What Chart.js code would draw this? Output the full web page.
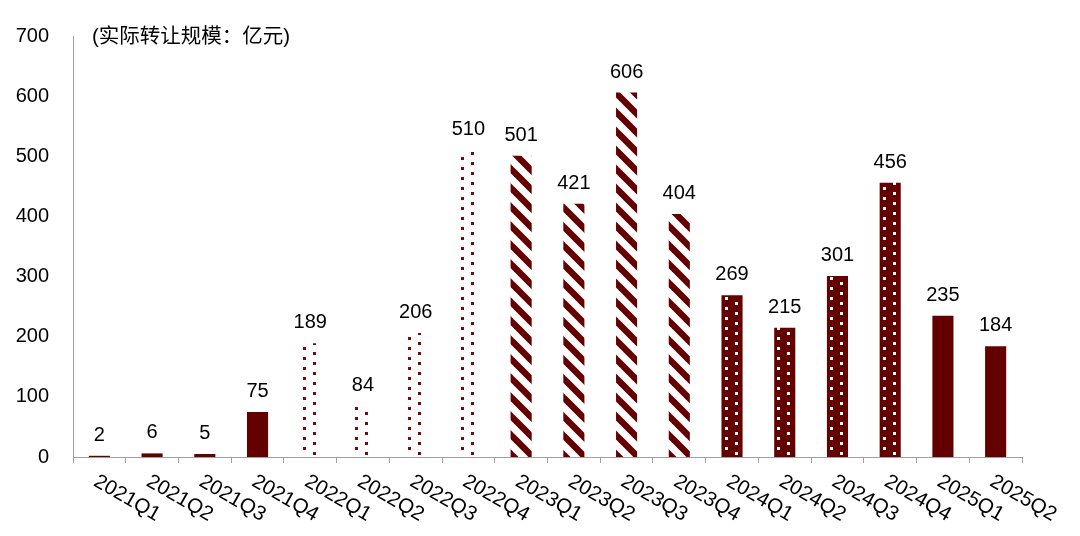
<!DOCTYPE html>
<html>
<head>
<meta charset="utf-8">
<script src="https://cdn.jsdelivr.net/npm/chart.js@4.4.0/dist/chart.umd.min.js"></script>
<style>
  html, body { margin: 0; padding: 0; background: #fff; }
  #wrap { width: 1080px; height: 536px; position: relative; }
</style>
</head>
<body>
<div id="wrap"><canvas id="transferChart"></canvas></div>
<script>
const quarters = ['2021Q1', '2021Q2', '2021Q3', '2021Q4', '2022Q1', '2022Q2', '2022Q3', '2022Q4',
    '2023Q1', '2023Q2', '2023Q3', '2023Q4', '2024Q1', '2024Q2', '2024Q3', '2024Q4', '2025Q1', '2025Q2'];
const transferValues = [2, 6, 5, 75, 189, 84, 206, 510, 501, 421, 606, 404, 269, 215, 301, 456, 235, 184];
const yTicks = [0, 100, 200, 300, 400, 500, 600, 700];
const unitNote = '(实际转让规模：亿元)';

const MAROON = '#640000';
const FONT = '"Liberation Sans", Arial, sans-serif';

// fill style per year, like the original excel chart
const makeTile = (w, h, paint) => {
    const c = document.createElement('canvas');
    c.width = w; c.height = h;
    paint(c.getContext('2d'));
    return c;
};

const sparseDots = makeTile(20, 10, g => {
    g.fillStyle = '#7a0a0a';
    g.fillRect(0, 0, 3, 3);
    g.fillRect(10, 5, 3, 3);
});
const whiteDots = makeTile(20, 10, g => {
    g.fillStyle = MAROON;
    g.fillRect(0, 0, 20, 10);
    g.fillStyle = '#fff';
    g.fillRect(0, 0, 3, 3);
    g.fillRect(10, 5, 3, 3);
});
const stripes = makeTile(19, 19, g => {
    g.strokeStyle = MAROON;
    g.lineWidth = 6.5;
    for (let k = -1; k <= 1; k++) {
        g.beginPath();
        g.moveTo(k * 19 - 2, -2);
        g.lineTo(k * 19 + 21, 21);
        g.stroke();
    }
});

const barFill = (ctx) => {
    const chart = ctx.chart;
    const year = quarters[ctx.dataIndex].slice(0, 4);
    let tile = null;
    if (year === '2022') tile = sparseDots;
    else if (year === '2023') tile = stripes;
    else if (year === '2024') tile = whiteDots;
    if (!tile || !chart.scales.x) return MAROON;
    const pat = chart.ctx.createPattern(tile, 'repeat');
    const cx = chart.scales.x.getPixelForValue(ctx.dataIndex);
    const by = chart.chartArea ? Math.round(chart.chartArea.bottom) : 0;
    pat.setTransform(new DOMMatrix([1, 0, 0, 1, Math.round(cx - 10.5 + 3), by]));
    return pat;
};

const overlayText = {
    id: 'overlayText',
    afterDatasetsDraw(chart) {
        const { ctx } = chart;
        const meta = chart.getDatasetMeta(0);
        ctx.save();
        ctx.fillStyle = '#000';
        ctx.font = '20px ' + FONT;
        ctx.textAlign = 'center';
        ctx.textBaseline = 'alphabetic';
        meta.data.forEach((bar, i) => {
            ctx.fillText(String(transferValues[i]), bar.x, bar.y - 15);
        });

        // rotated category labels
        const xs = chart.scales.x;
        ctx.font = '20.5px ' + FONT;
        ctx.textAlign = 'left';
        ctx.textBaseline = 'middle';
        quarters.forEach((q, i) => {
            const px = xs.getPixelForValue(i);
            ctx.save();
            ctx.translate(px - 4, xs.top + 23);
            ctx.rotate(Math.PI / 6);
            ctx.fillText(q, 0, 0);
            ctx.restore();
        });

        // unit note
        ctx.font = '20.5px "Liberation Sans", "Noto Sans CJK SC", sans-serif';
        ctx.textAlign = 'left';
        ctx.textBaseline = 'middle';
        ctx.fillText(unitNote, 92, 37);
        ctx.restore();
    }
};

window.addEventListener('load', () => {
    const canvas = document.getElementById('transferChart');
    new Chart(canvas.getContext('2d'), {
        type: 'bar',
        data: {
            labels: quarters,
            datasets: [{
                data: transferValues,
                backgroundColor: barFill,
                borderWidth: 0,
                barPercentage: 0.8,
                categoryPercentage: 0.5
            }]
        },
        options: {
            responsive: true,
            maintainAspectRatio: false,
            animation: false,
            events: [],
            layout: { padding: { left: 0, top: 32, right: 58, bottom: 0 } },
            plugins: {
                legend: { display: false },
                tooltip: { enabled: false }
            },
            scales: {
                x: {
                    ticks: { display: false },
                    grid: {
                        offset: true,
                        drawOnChartArea: false,
                        drawTicks: true,
                        tickLength: 6,
                        color: '#a0a0a0'
                    },
                    border: { color: '#a0a0a0', width: 1 },
                    afterFit: s => { s.height = 79; }
                },
                y: {
                    min: 0,
                    max: 700,
                    afterBuildTicks: s => { s.ticks = yTicks.map(v => ({ value: v })); },
                    ticks: {
                        color: '#000',
                        padding: 24,
                        font: { family: FONT, size: 20 }
                    },
                    grid: { display: false, drawTicks: false },
                    border: { display: true, color: '#a0a0a0', width: 1 },
                    afterFit: s => { s.width = 73; }
                }
            }
        },
        plugins: [overlayText]
    });
});
</script>
</body>
</html>
